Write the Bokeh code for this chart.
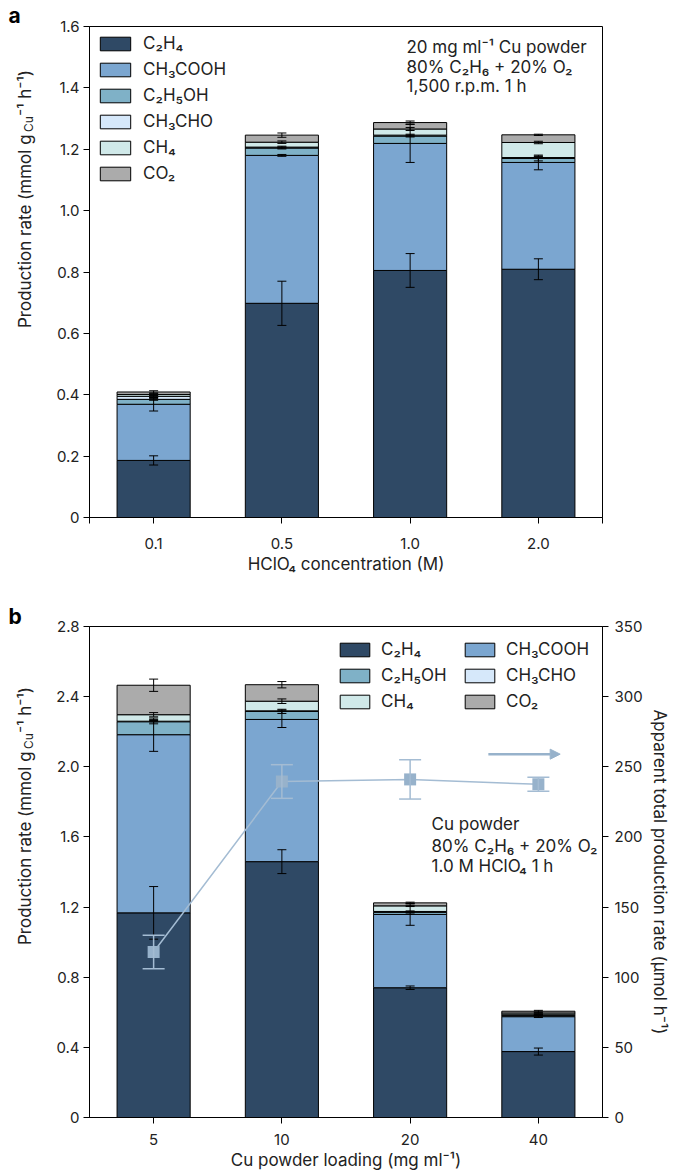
import numpy as np
from bokeh.plotting import figure
from bokeh.models import (ColumnDataSource, Range1d, LinearAxis, FixedTicker, Whisker, TeeHead,
                          Legend, LegendItem, Label, Arrow, NormalHead)
from bokeh.layouts import column, row
from bokeh.embed import file_html
from bokeh.resources import INLINE

# ---------------- data ----------------
species = ["C₂H₄", "CH₃COOH", "C₂H₅OH", "CH₃CHO", "CH₄", "CO₂"]
colors = ["#2f4965", "#7ba6d0", "#7fb1c7", "#d6e8fa", "#d0e9e9", "#ababab"]

# panel a: HClO4 concentration
conc_labels = ["0.1", "0.5", "1.0", "2.0"]
a_C2H4 = [0.186, 0.698, 0.805, 0.809]
a_CH3COOH = [0.183, 0.482, 0.414, 0.348]
a_C2H5OH = [0.016, 0.024, 0.024, 0.013]
a_CH3CHO = [0.010, 0.003, 0.003, 0.003]
a_CH4 = [0.006, 0.016, 0.020, 0.049]
a_CO2 = [0.008, 0.023, 0.021, 0.025]
a_err_C2H4 = [0.015, 0.072, 0.055, 0.034]
a_err_CH3COOH = [0.022, 0.003, 0.062, 0.024]
a_err_C2H5OH = [0.003, 0.003, 0.003, 0.008]
a_err_CH3CHO = [0.003, 0.003, 0.003, 0.003]
a_err_CH4 = [0.004, 0.004, 0.005, 0.004]
a_err_CO2 = [0.004, 0.007, 0.005, 0.002]
a_yticks = [0, 0.2, 0.4, 0.6, 0.8, 1.0, 1.2, 1.4, 1.6]
a_ytick_labels = ["0", "0.2", "0.4", "0.6", "0.8", "1.0", "1.2", "1.4", "1.6"]

# panel b: Cu powder loading
load_labels = ["5", "10", "20", "40"]
b_C2H4 = [1.167, 1.459, 0.740, 0.376]
b_CH3COOH = [1.016, 0.811, 0.418, 0.199]
b_C2H5OH = [0.074, 0.046, 0.012, 0.008]
b_CH3CHO = [0.003, 0.003, 0.005, 0.003]
b_CH4 = [0.037, 0.055, 0.032, 0.010]
b_CO2 = [0.168, 0.094, 0.017, 0.010]
b_err_C2H4 = [0.150, 0.068, 0.010, 0.020]
b_err_CH3COOH = [0.095, 0.046, 0.062, 0.005]
b_err_C2H5OH = [0.012, 0.012, 0.004, 0.004]
b_err_CH3CHO = [0.004, 0.004, 0.003, 0.003]
b_err_CH4 = [0.012, 0.013, 0.004, 0.004]
b_err_CO2 = [0.035, 0.018, 0.004, 0.005]
b_yticks = [0, 0.4, 0.8, 1.2, 1.6, 2.0, 2.4, 2.8]
b_ytick_labels = ["0", "0.4", "0.8", "1.2", "1.6", "2.0", "2.4", "2.8"]

rate = [118, 239.5, 241, 237.5]          # apparent total production rate (umol/h)
rate_err = [12, 12, 14, 5]
rate_ticks = [0, 50, 100, 150, 200, 250, 300, 350]

# ---------------- style / layout ----------------
FONT = "Inter"
TXT = "#222222"
LINE_C = "#a4bcd3"
MARK_C = "#97b2cb"
BAR_W = 0.57
FRAME_H = 491
SIDE_W = 40
MAIN_W = 679 - SIDE_W
H_A, TOP_A, BOT_A = 590, 26, 73
H_B, TOP_B, BOT_B = 583, 36, 56
keys = ["c2h4", "ch3cooh", "c2h5oh", "ch3cho", "ch4", "co2"]


def make_fig(height, top, bottom, y_end):
    p = figure(width=MAIN_W, height=height, x_range=Range1d(0, 4), y_range=Range1d(0, y_end),
               output_backend="svg", toolbar_location=None,
               min_border_left=89 - SIDE_W, min_border_right=MAIN_W - (89 - SIDE_W) - 513,
               min_border_top=top, min_border_bottom=bottom)
    p.xgrid.visible = False
    p.ygrid.visible = False
    p.outline_line_color = "black"
    p.outline_line_width = 1
    p.outline_line_alpha = 1
    return p


def make_side(height, letter, standoff, top):
    s = figure(width=SIDE_W, height=height, x_range=Range1d(0, 1), y_range=Range1d(0, 1),
               output_backend="svg", toolbar_location=None, min_border=0, title=letter,
               x_axis_location=None, y_axis_location=None)
    s.min_border_top = top
    s.outline_line_color = None
    s.grid.visible = False
    s.title.align = "left"
    s.title.offset = 8
    s.title.standoff = standoff
    s.title.text_font = FONT
    s.title.text_font_size = "21px"
    s.title.text_font_style = "bold"
    s.title.text_color = "black"
    return s


def style_axis(ax, standoff):
    ax.axis_line_color = "black"
    ax.axis_line_width = 1
    ax.major_tick_line_color = "black"
    ax.major_tick_out = 6
    ax.major_tick_in = 0
    ax.minor_tick_line_color = None
    ax.major_label_text_font = FONT
    ax.major_label_text_font_size = "15px"
    ax.major_label_text_color = TXT
    ax.major_label_standoff = standoff
    ax.axis_label_text_font = FONT
    ax.axis_label_text_font_size = "17px"
    ax.axis_label_text_font_style = "normal"
    ax.axis_label_text_color = TXT
    ax.axis_label_standoff = 0


def add_stack(p, xs, comps, errs):
    data = {"x": xs}
    for k, v in zip(keys, comps):
        data[k] = v
    src = ColumnDataSource(data)
    rs = p.vbar_stack(keys, x="x", width=BAR_W, fill_color=colors, line_color="black",
                      line_width=1, source=src)
    cum = np.zeros(len(xs))
    for v, e in zip(comps, errs):
        cum = cum + np.array(v)
        wsrc = ColumnDataSource(dict(x=xs, upper=cum + np.array(e), lower=cum - np.array(e)))
        p.add_layout(Whisker(base="x", upper="upper", lower="lower", source=wsrc,
                             line_color="black", line_width=1, level="annotation",
                             upper_head=TeeHead(size=9, line_color="black", line_width=1),
                             lower_head=TeeHead(size=9, line_color="black", line_width=1)))
    return rs


# rotated y label, built from pieces so that "Cu" can be a subscript
YLAB_PIECES = [("Production rate (mmol g", "17px", 0, 196), ("Cu", "12px", 4, 16),
               ("⁻¹ h⁻¹)", "17px", 0, 46)]


def add_ylabel(side, center_y):
    total = sum(w for *_, w in YLAB_PIECES)
    y = center_y - total / 2
    for text, size, dx, w in YLAB_PIECES:
        side.add_layout(Label(x=24 + dx, y=y, x_units="screen", y_units="screen", text=text,
                              angle=np.pi / 2, text_font=FONT, text_font_size=size,
                              text_color=TXT, text_align="left", text_baseline="alphabetic"))
        y += w


def add_text_lines(p, x, ys, lines):
    for y, t in zip(ys, lines):
        p.add_layout(Label(x=x, y=y, x_units="screen", y_units="screen", text=t,
                           text_font=FONT, text_font_size="17px", text_color=TXT,
                           text_align="left", text_baseline="middle"))


# ---------------- panel a ----------------
xa = [i + 0.5 for i in range(len(conc_labels))]
pa = make_fig(H_A, TOP_A, BOT_A, 1.6)
ra = add_stack(pa, xa, [a_C2H4, a_CH3COOH, a_C2H5OH, a_CH3CHO, a_CH4, a_CO2],
               [a_err_C2H4, a_err_CH3COOH, a_err_C2H5OH, a_err_CH3CHO, a_err_CH4, a_err_CO2])
xax_a, yax_a = pa.below[0], pa.left[0]
xax_a.ticker = FixedTicker(ticks=xa, minor_ticks=[0, len(conc_labels)])
xax_a.major_label_overrides = dict(zip(xa, conc_labels))
xax_a.axis_label = "HClO₄ concentration (M)"
yax_a.ticker = FixedTicker(ticks=a_yticks)
yax_a.major_label_overrides = dict(zip(a_yticks, a_ytick_labels))
style_axis(xax_a, 14)
style_axis(yax_a, 4)
xax_a.axis_label_standoff = 2
xax_a.minor_tick_line_color = "black"
xax_a.minor_tick_out = 6
xax_a.minor_tick_in = 0

leg_a = Legend(items=[LegendItem(label=s, renderers=[r]) for s, r in zip(species, ra)],
               location="top_left", margin=7, padding=0, spacing=6,
               glyph_width=38, glyph_height=17, label_height=17, label_standoff=9,
               label_text_font=FONT, label_text_font_size="17px", label_text_color=TXT,
               border_line_color=None, background_fill_alpha=0)
pa.add_layout(leg_a)
add_text_lines(pa, 317, [471, 451, 432],
               ["20 mg ml⁻¹ Cu powder", "80% C₂H₆ + 20% O₂", "1,500 r.p.m. 1 h"])

sa = make_side(H_A, "a", -2, 0)
add_ylabel(sa, H_A - (TOP_A + FRAME_H / 2))

# ---------------- panel b ----------------
xb = [i + 0.5 for i in range(len(load_labels))]
pb = make_fig(H_B, TOP_B, BOT_B, 2.8)
rb = add_stack(pb, xb, [b_C2H4, b_CH3COOH, b_C2H5OH, b_CH3CHO, b_CH4, b_CO2],
               [b_err_C2H4, b_err_CH3COOH, b_err_C2H5OH, b_err_CH3CHO, b_err_CH4, b_err_CO2])
pb.extra_y_ranges = {"right": Range1d(0, 350)}
rsrc = ColumnDataSource(dict(x=xb, rate=rate,
                             upper=[r + e for r, e in zip(rate, rate_err)],
                             lower=[r - e for r, e in zip(rate, rate_err)]))
pb.line("x", "rate", source=rsrc, y_range_name="right", line_color=LINE_C, line_width=1.5)
pb.add_layout(Whisker(base="x", upper="upper", lower="lower", source=rsrc, y_range_name="right",
                      line_color=LINE_C, line_width=1.5, level="annotation",
                      upper_head=TeeHead(size=22, line_color=LINE_C, line_width=1.5),
                      lower_head=TeeHead(size=22, line_color=LINE_C, line_width=1.5)))
pb.scatter("x", "rate", source=rsrc, y_range_name="right", marker="square", size=12,
           fill_color=MARK_C, line_color=None)

raxis = LinearAxis(y_range_name="right", ticker=FixedTicker(ticks=rate_ticks),
                   axis_label="Apparent total production rate (μmol h⁻¹)")
pb.add_layout(raxis, "right")
xax_b, yax_b = pb.below[0], pb.left[0]
xax_b.ticker = FixedTicker(ticks=xb)
xax_b.major_label_overrides = dict(zip(xb, load_labels))
xax_b.axis_label = "Cu powder loading (mg ml⁻¹)"
yax_b.ticker = FixedTicker(ticks=b_yticks)
yax_b.major_label_overrides = dict(zip(b_yticks, b_ytick_labels))
style_axis(xax_b, 10)
style_axis(yax_b, 4)
style_axis(raxis, 6)
raxis.axis_label_standoff = 4
xax_b.axis_label_standoff = 2

ARROW_X0, ARROW_X1, ARROW_Y = 3.11, 3.67, 259
pb.add_layout(Arrow(end=NormalHead(size=10, fill_color=MARK_C, line_color=MARK_C),
                    x_start=ARROW_X0, y_start=ARROW_Y, x_end=ARROW_X1, y_end=ARROW_Y,
                    y_range_name="right", line_color=MARK_C, line_width=2.5))

items_b = [LegendItem(label=s, renderers=[r]) for s, r in zip(species, rb)]
for cols, loc in ((items_b[0::2], (247, 406)), (items_b[1::2], (372, 406))):
    pb.add_layout(Legend(items=cols, location=loc, margin=0, padding=0, spacing=6,
                         glyph_width=37, glyph_height=17, label_height=17, label_standoff=8,
                         label_text_font=FONT, label_text_font_size="17px", label_text_color=TXT,
                         border_line_color=None, background_fill_alpha=0))
add_text_lines(pb, 342, [294, 272, 252],
               ["Cu powder", "80% C₂H₆ + 20% O₂", "1.0 M HClO₄ 1 h"])

sb = make_side(H_B, "b", -4, TOP_B)
add_ylabel(sb, H_B - (TOP_B + FRAME_H / 2))

layout = column(row(sa, pa, spacing=0), row(sb, pb, spacing=0), spacing=0)
open("out.html", "w").write(file_html(layout, INLINE))
